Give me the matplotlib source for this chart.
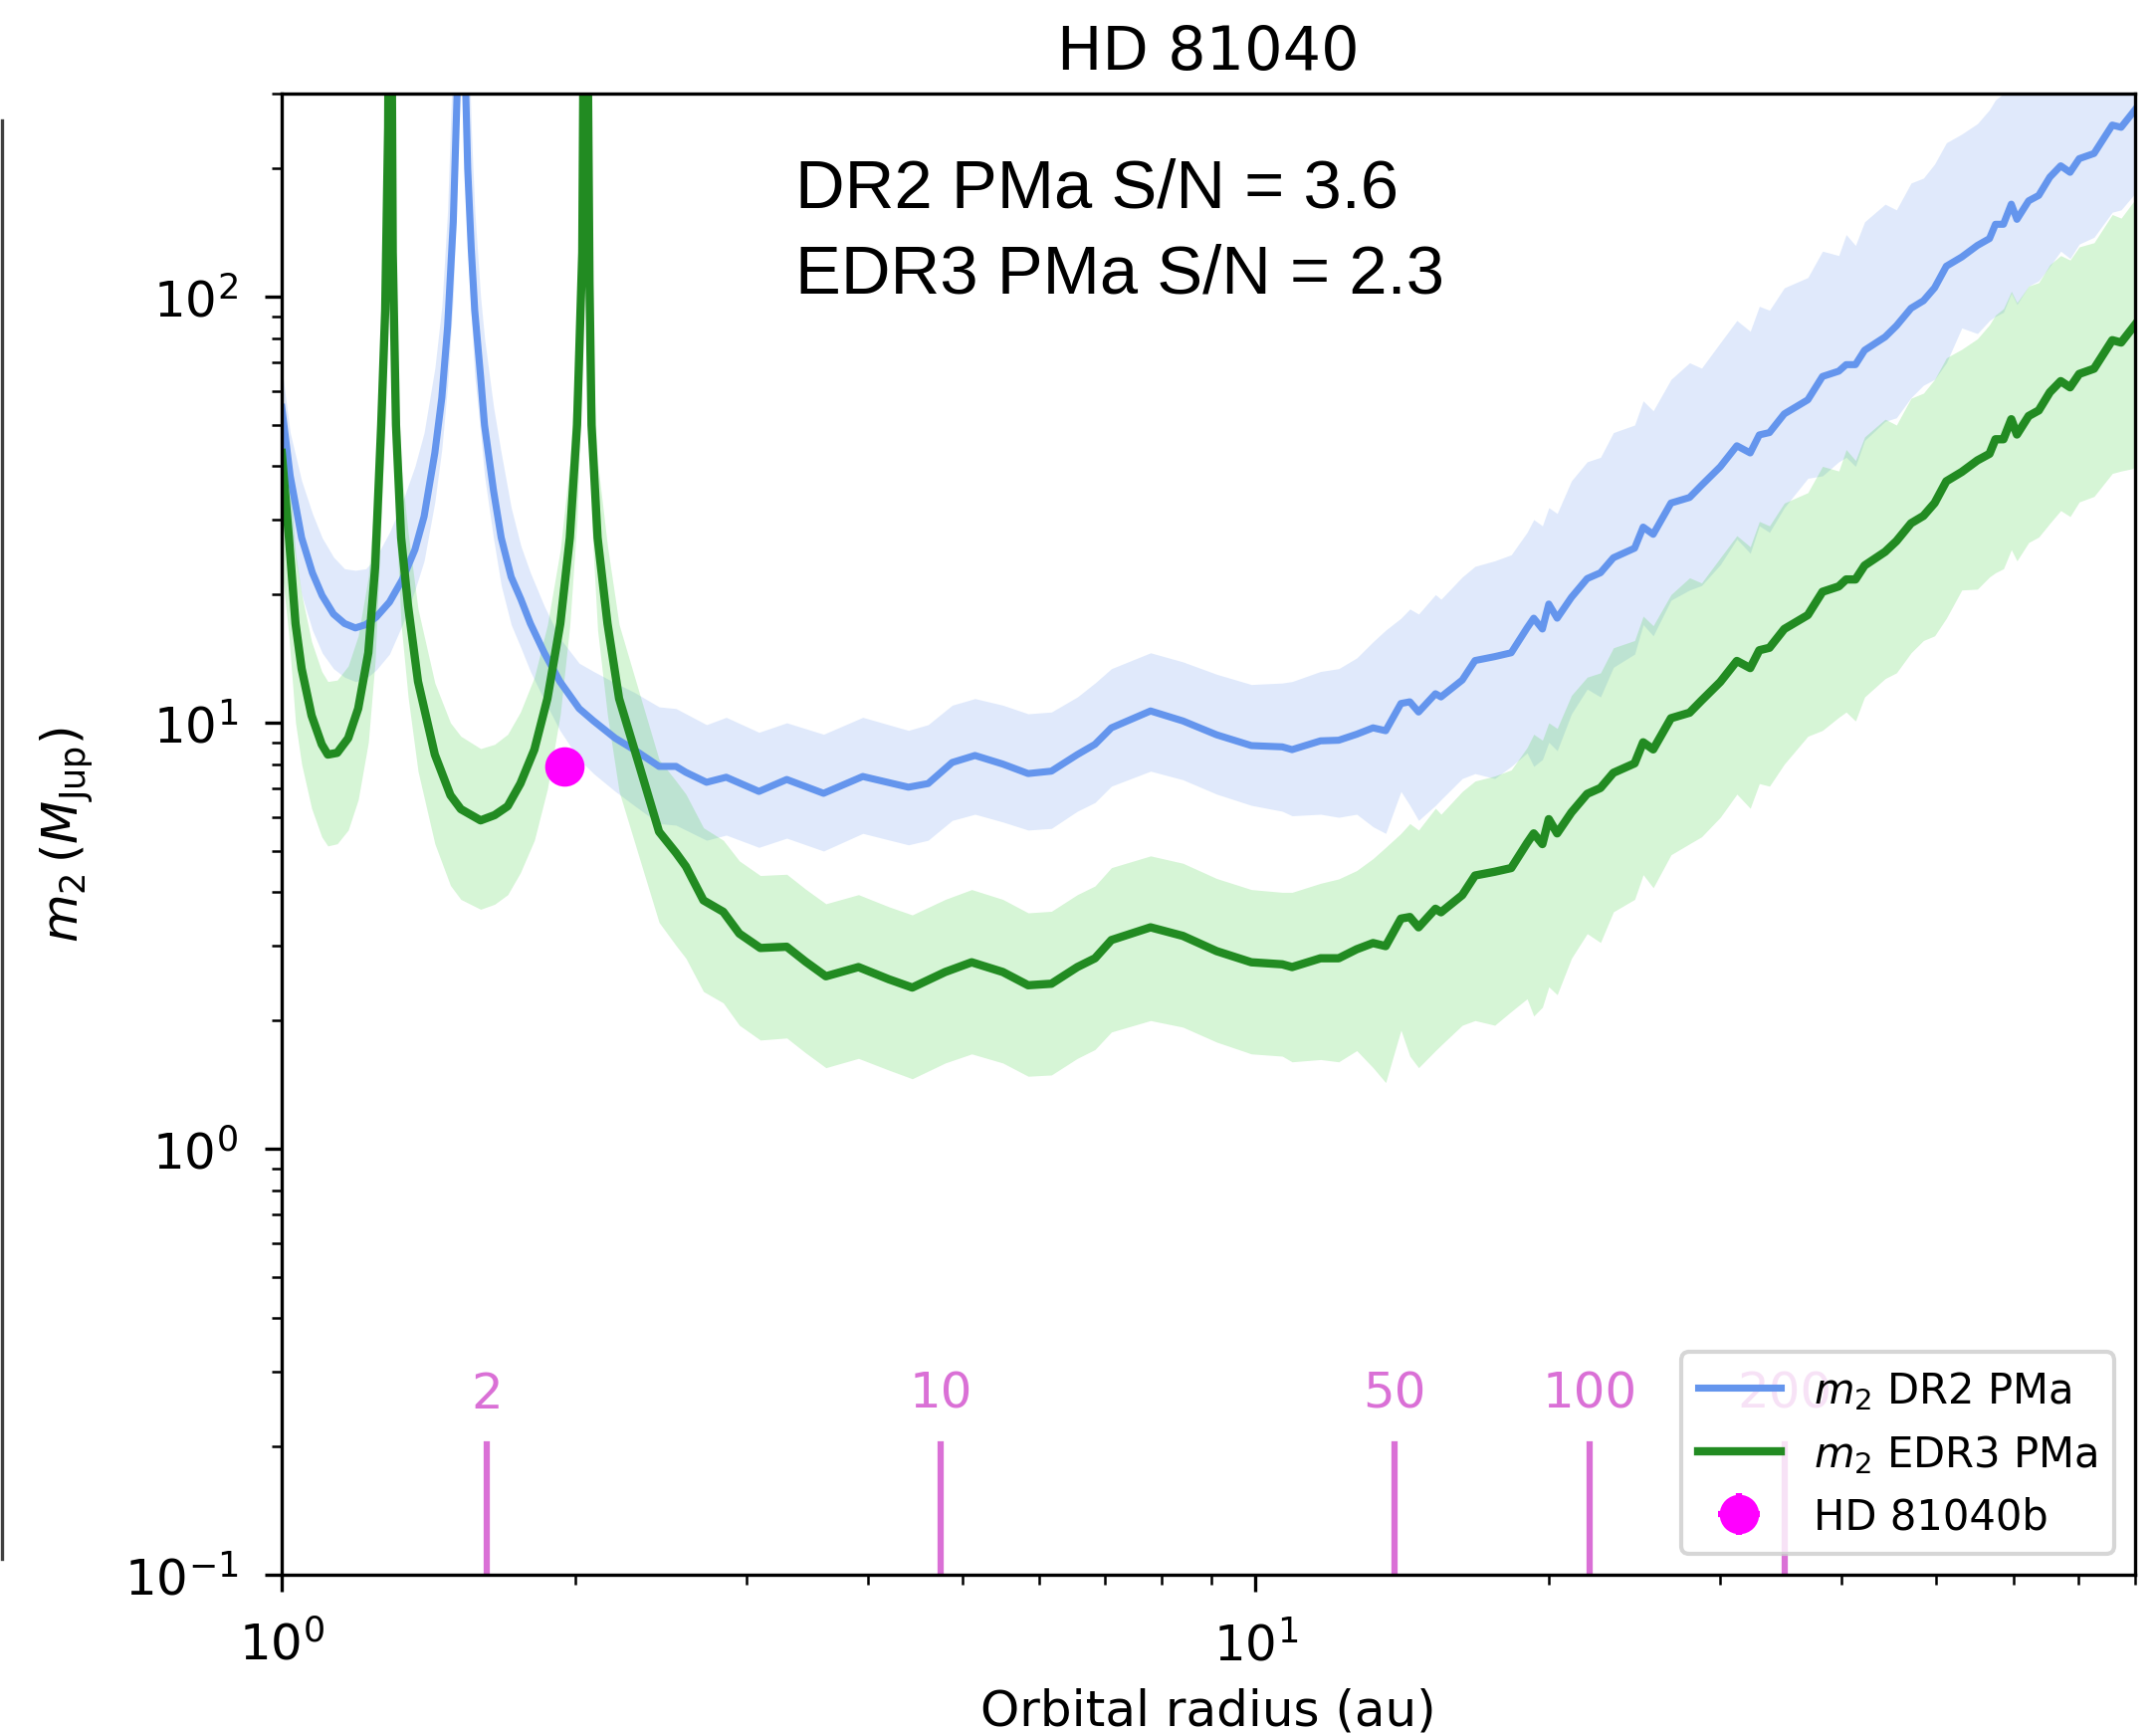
import numpy as np
import matplotlib.pyplot as plt
from matplotlib.lines import Line2D
from matplotlib.transforms import blended_transform_factory

# m2 from the DR2 proper-motion anomaly (au, M_Jup), median and 1-sigma band
a_dr2 = [1.00, 1.02, 1.048, 1.075, 1.10, 1.13, 1.16, 1.19, 1.22, 1.25, 1.29, 1.33,
         1.37, 1.40, 1.436, 1.46, 1.48, 1.50, 1.515, 1.527, 1.54, 1.552, 1.565, 1.578,
         1.60, 1.615, 1.65, 1.68, 1.72, 1.76, 1.80, 1.86, 1.93, 2.02, 2.09, 2.2,
         2.3, 2.44, 2.54, 2.60, 2.73, 2.86, 3.09, 3.30, 3.60, 3.95, 4.40, 4.61,
         4.88, 5.15, 5.5, 5.84, 6.17, 6.56, 6.84, 7.11, 7.8, 8.42, 9.12, 9.9,
         10.65, 10.9, 11.66, 12.17, 12.7, 13.2, 13.6, 14.1, 14.4, 14.7, 15.3, 15.5,
         16.3, 16.8, 17.6, 18.3, 19.0, 19.3, 19.7, 20.0, 20.4, 21.1, 21.9, 22.6,
         23.3, 24.5, 25.0, 25.6, 26.7, 27.9, 28.7, 30.0, 31.2, 32.2, 32.9, 33.7,
         34.9, 36.9, 38.2, 39.7, 40.4, 41.3, 42.2, 44.3, 45.5, 47.1, 48.5, 49.8,
         51.2, 53.1, 55.1, 56.7, 57.5, 58.6, 59.7, 60.5, 62.2, 63.7, 65.4, 67.1,
         68.6, 70.1, 72.6, 75.8, 77.4, 79.5, 80.0]
m_dr2 = [55, 38, 27.2, 22.5, 19.9, 18.0, 17.1, 16.7, 17.0, 17.7, 19.2, 21.7,
         25.5, 30.5, 43, 58, 85, 150, 320, 2000, 400, 200, 130, 93,
         65, 50, 35, 27.2, 22, 19.5, 17.1, 14.6, 12.5, 10.8, 10.1, 9.2,
         8.65, 7.9, 7.9, 7.65, 7.25, 7.45, 6.9, 7.36, 6.83, 7.48, 7.06, 7.2,
         8.07, 8.38, 8.0, 7.6, 7.7, 8.42, 8.9, 9.73, 10.66, 10.1, 9.37, 8.84,
         8.78, 8.65, 9.07, 9.1, 9.4, 9.73, 9.58, 11.1, 11.2, 10.6, 11.7, 11.5,
         12.6, 14.0, 14.3, 14.6, 16.7, 17.6, 16.6, 19.0, 17.6, 19.7, 21.8, 22.5,
         24.4, 25.7, 28.8, 27.7, 32.8, 33.8, 36.1, 39.9, 44.7, 43.0, 47.4, 48.0,
         53.1, 57.3, 65.0, 66.9, 69.3, 69.3, 74.9, 80.5, 85.5, 94.0, 97.9, 105,
         118, 124, 132, 137, 148, 148, 165, 152, 168, 173, 191, 203,
         196, 211, 217, 253, 250, 270, 275]
m_dr2_lo = [40, 29, 20, 16.5, 14.6, 13.4, 12.8, 12.5, 12.7, 13.3, 14.5, 17.0,
            20.5, 24, 33, 44, 62, 100, 200, 800, 200, 130, 90, 65,
            48, 38, 27, 21, 17, 15, 13.2, 11.3, 9.6, 8.2, 7.6, 6.9,
            6.4, 5.8, 5.75, 5.6, 5.3, 5.45, 5.1, 5.36, 5.0, 5.5, 5.17, 5.3,
            5.9, 6.1, 5.85, 5.6, 5.65, 6.2, 6.5, 7.1, 7.7, 7.35, 6.8, 6.4,
            6.2, 6.05, 6.1, 6.0, 6.1, 5.7, 5.5, 6.9, 6.4, 5.9, 6.4, 6.6,
            7.4, 7.6, 7.4, 7.9, 8.5, 7.9, 8.2, 9.0, 8.6, 10.5, 12.0, 11.5,
            13.5, 14.5, 17, 16, 19.4, 20.5, 21, 23.5, 27, 25, 29, 28,
            32, 37.5, 38, 41, 42, 40, 46, 51, 52, 58, 62, 64,
            70, 84.5, 82, 88, 90, 92, 102, 96, 106, 109, 118, 128,
            123, 133, 138, 158, 160, 172, 175]
m_dr2_hi = [68, 48, 37, 31, 27.2, 24.5, 23.0, 22.8, 23.0, 24.5, 28, 33,
            40, 48, 68, 95, 160, 400, 900, 3000, 900, 500, 250, 160,
            100, 80, 55, 43, 32, 26, 22.5, 18.8, 15.8, 13.8, 13.2, 12.4,
            11.8, 10.9, 10.8, 10.5, 9.9, 10.3, 9.5, 10.0, 9.4, 10.3, 9.6, 9.9,
            11.0, 11.4, 11.0, 10.5, 10.6, 11.5, 12.4, 13.4, 14.6, 13.9, 13.0, 12.3,
            12.4, 12.5, 13.2, 13.4, 14.2, 15.5, 16.5, 17.6, 18.5, 18.0, 20, 19.5,
            22, 23.3, 24.0, 24.8, 28, 30, 29, 32, 31, 37, 41, 42,
            48, 50, 57, 54, 64, 70, 68, 78, 88, 83, 95, 93,
            105, 111, 128, 125, 140, 132, 150, 165, 160, 185, 190, 205,
            230, 241, 255, 275, 290, 300, 330, 310, 340, 345, 380, 400,
            390, 420, 430, 500, 490, 530, 540]

# m2 from the EDR3 proper-motion anomaly
a_edr3 = [1.00, 1.017, 1.033, 1.048, 1.073, 1.099, 1.115, 1.14, 1.17, 1.198, 1.227, 1.247,
          1.265, 1.277, 1.286, 1.292, 1.30, 1.31, 1.326, 1.348, 1.38, 1.436, 1.49, 1.527,
          1.60, 1.654, 1.706, 1.758, 1.817, 1.874, 1.932, 1.976, 2.01, 2.035, 2.05, 2.07,
          2.08, 2.11, 2.16, 2.22, 2.33, 2.44, 2.54, 2.60, 2.71, 2.84, 2.95, 3.10,
          3.30, 3.45, 3.62, 3.91, 4.2, 4.44, 4.8, 5.11, 5.5, 5.84, 6.17, 6.56,
          6.84, 7.11, 7.8, 8.42, 9.12, 9.9, 10.65, 10.9, 11.66, 12.17, 12.7, 13.2,
          13.6, 14.1, 14.4, 14.7, 15.3, 15.5, 16.3, 16.8, 17.6, 18.3, 19.0, 19.3,
          19.7, 20.0, 20.4, 21.1, 21.9, 22.6, 23.3, 24.5, 25.0, 25.6, 26.7, 27.9,
          28.7, 30.0, 31.2, 32.2, 32.9, 33.7, 34.9, 36.9, 38.2, 39.7, 40.4, 41.3,
          42.2, 44.3, 45.5, 47.1, 48.5, 49.8, 51.2, 53.1, 55.1, 56.7, 57.5, 58.6,
          59.7, 60.5, 62.2, 63.7, 65.4, 67.1, 68.6, 70.1, 72.6, 75.8, 77.4, 79.5, 80.0]
m_edr3 = [43, 27.2, 17.1, 13.4, 10.4, 8.9, 8.42, 8.5, 9.2, 10.8, 14.6, 23.2,
          50, 93, 250, 2000, 127, 50, 27.2, 18.8, 12.5, 8.42, 6.76, 6.27,
          5.9, 6.07, 6.37, 7.2, 8.65, 11.4, 17.1, 27.2, 50, 127, 2000, 108,
          50, 27.2, 17.1, 11.4, 7.9, 5.55, 4.95, 4.6, 3.83, 3.6, 3.2, 2.96,
          2.98, 2.75, 2.54, 2.67, 2.5, 2.39, 2.6, 2.74, 2.6, 2.42, 2.44, 2.67,
          2.80, 3.09, 3.31, 3.16, 2.91, 2.74, 2.71, 2.67, 2.80, 2.80, 2.94, 3.04,
          2.99, 3.47, 3.5, 3.31, 3.66, 3.59, 3.94, 4.38, 4.47, 4.56, 5.22, 5.5,
          5.19, 5.94, 5.5, 6.16, 6.81, 7.03, 7.63, 8.03, 9.0, 8.66, 10.25, 10.56,
          11.28, 12.47, 13.97, 13.44, 14.8, 15.0, 16.6, 17.9, 20.3, 20.9, 21.7, 21.7,
          23.4, 25.2, 26.7, 29.4, 30.6, 32.8, 36.9, 38.8, 41.3, 42.8, 46.3, 46.3,
          51.6, 47.5, 52.5, 54.1, 59.7, 63.4, 61.3, 65.9, 67.8, 79.1, 78.1, 84.4, 86]
m_edr3_lo = [23, 16, 10, 8.0, 6.3, 5.4, 5.14, 5.2, 5.6, 6.6, 9, 14,
             30, 55, 130, 600, 70, 30, 17, 11.5, 7.7, 5.2, 4.15, 3.85,
             3.65, 3.75, 3.95, 4.45, 5.3, 7.0, 10.5, 17, 30, 70, 600, 60,
             30, 16.5, 10.4, 6.9, 4.8, 3.4, 3.0, 2.8, 2.34, 2.2, 1.95, 1.80,
             1.82, 1.68, 1.55, 1.63, 1.53, 1.46, 1.59, 1.67, 1.59, 1.48, 1.49, 1.63,
             1.71, 1.88, 2.0, 1.93, 1.78, 1.67, 1.65, 1.60, 1.62, 1.6, 1.7, 1.55,
             1.43, 1.9, 1.65, 1.55, 1.7, 1.75, 1.95, 2.0, 1.95, 2.1, 2.25, 2.05,
             2.15, 2.4, 2.3, 2.8, 3.2, 3.05, 3.6, 3.85, 4.4, 4.1, 4.9, 5.2,
             5.4, 6.0, 6.8, 6.3, 7.2, 7.1, 8.0, 9.3, 9.6, 10.3, 10.6, 10.1,
             11.5, 12.7, 13.1, 14.6, 15.6, 16.0, 17.6, 20.5, 20.6, 22.0, 22.5, 23.0,
             25.5, 24.0, 26.5, 27.3, 29.4, 31.5, 30.5, 33.0, 34.0, 38.5, 39.0, 39.5, 40]
m_edr3_hi = [62, 40, 25, 20, 15.5, 13.2, 12.5, 12.6, 13.6, 16, 22, 35,
             80, 160, 600, 3000, 250, 80, 40, 28, 18.5, 12.4, 10.0, 9.3,
             8.7, 8.9, 9.4, 10.6, 12.8, 17, 25.5, 41, 80, 250, 3000, 200,
             80, 41, 26, 17, 11.7, 8.2, 7.3, 6.8, 5.67, 5.3, 4.74, 4.38,
             4.41, 4.07, 3.76, 3.95, 3.7, 3.54, 3.85, 4.06, 3.85, 3.58, 3.61, 3.95,
             4.14, 4.57, 4.87, 4.68, 4.31, 4.06, 4.0, 4.0, 4.2, 4.3, 4.5, 4.8,
             5.1, 5.5, 5.8, 5.6, 6.3, 6.1, 6.9, 7.3, 7.5, 7.75, 8.75, 9.4,
             9.1, 10, 9.7, 11.6, 12.8, 13.1, 15, 15.6, 17.8, 16.9, 20, 21.9,
             21.3, 24.4, 27.5, 25.9, 29.7, 29, 32.8, 34.7, 40, 39, 43.8, 41.3,
             46.9, 51.6, 50, 57.8, 59.4, 64, 71.9, 75.3, 79.7, 86, 90.6, 93.8,
             103, 96.9, 106, 108, 119, 125, 122, 131, 134, 156, 153, 166, 169]

# known companion
planet_a = [1.95]
planet_m = [7.9]
planet_aerr = [0.02]
planet_merr = [0.3]

# orbital periods marked along the bottom (yr), host mass (Msun)
periods = [2, 10, 50, 100, 200]
m_star = 1.07

fig = plt.figure(figsize=(2166 / 300, 1743 / 300), dpi=300)
ax = fig.add_axes([0.1307, 0.0918, 0.8596, 0.8537])

ax.fill_between(a_dr2, m_dr2_lo, m_dr2_hi, color='cornflowerblue', alpha=0.2, lw=0)
ax.fill_between(a_edr3, m_edr3_lo, m_edr3_hi, color='limegreen', alpha=0.2, lw=0)
ax.plot(a_dr2, m_dr2, color='cornflowerblue', lw=1.7, label=r'$m_2$ DR2 PMa')
ax.plot(a_edr3, m_edr3, color='forestgreen', lw=2.0, label=r'$m_2$ EDR3 PMa')
ax.errorbar(planet_a, planet_m, xerr=planet_aerr, yerr=planet_merr, fmt='o',
            color='magenta', ms=8.5, label='HD 81040b', zorder=4)

trans = blended_transform_factory(ax.transData, ax.transAxes)
for p in periods:
    a_p = (m_star * p ** 2) ** (1 / 3)
    ax.axvline(a_p, 0, 0.088, color='orchid', lw=1.5)
    ax.text(a_p, 0.113, str(p), transform=trans, ha='center', va='baseline',
            color='orchid', fontsize=12)

ax.set_xscale('log'); ax.set_yscale('log')
ax.set_xlim(1, 80)
ax.set_ylim(0.1, 300)
ax.set_xlabel('Orbital radius (au)', fontsize=12, labelpad=4)
ax.set_ylabel(r'$m_2\,(M_{\rm Jup})$', fontsize=12, labelpad=7)
ax.set_title('HD 81040', fontsize=14.5)
ax.tick_params(labelsize=12)
ax.tick_params(which='major', length=4)
ax.tick_params(which='minor', length=2.4)
ax.tick_params(axis='x', which='major', pad=7)
ax.tick_params(axis='y', which='major', pad=6.5)

ax.text(0.277, 0.9234, 'DR2 PMa S/N = 3.6', transform=ax.transAxes,
        family='Liberation Sans', fontsize=16.5, va='baseline')
ax.text(0.277, 0.8656, 'EDR3 PMa S/N = 2.3', transform=ax.transAxes,
        family='Liberation Sans', fontsize=16.5, va='baseline')

ax.legend(loc='lower right', fontsize=10)

# edge of the neighbouring panel
fig.add_artist(Line2D([0.0008, 0.0008], [0.101, 0.930], color='0.25', lw=0.8))

fig.savefig('out.png', dpi=300)
